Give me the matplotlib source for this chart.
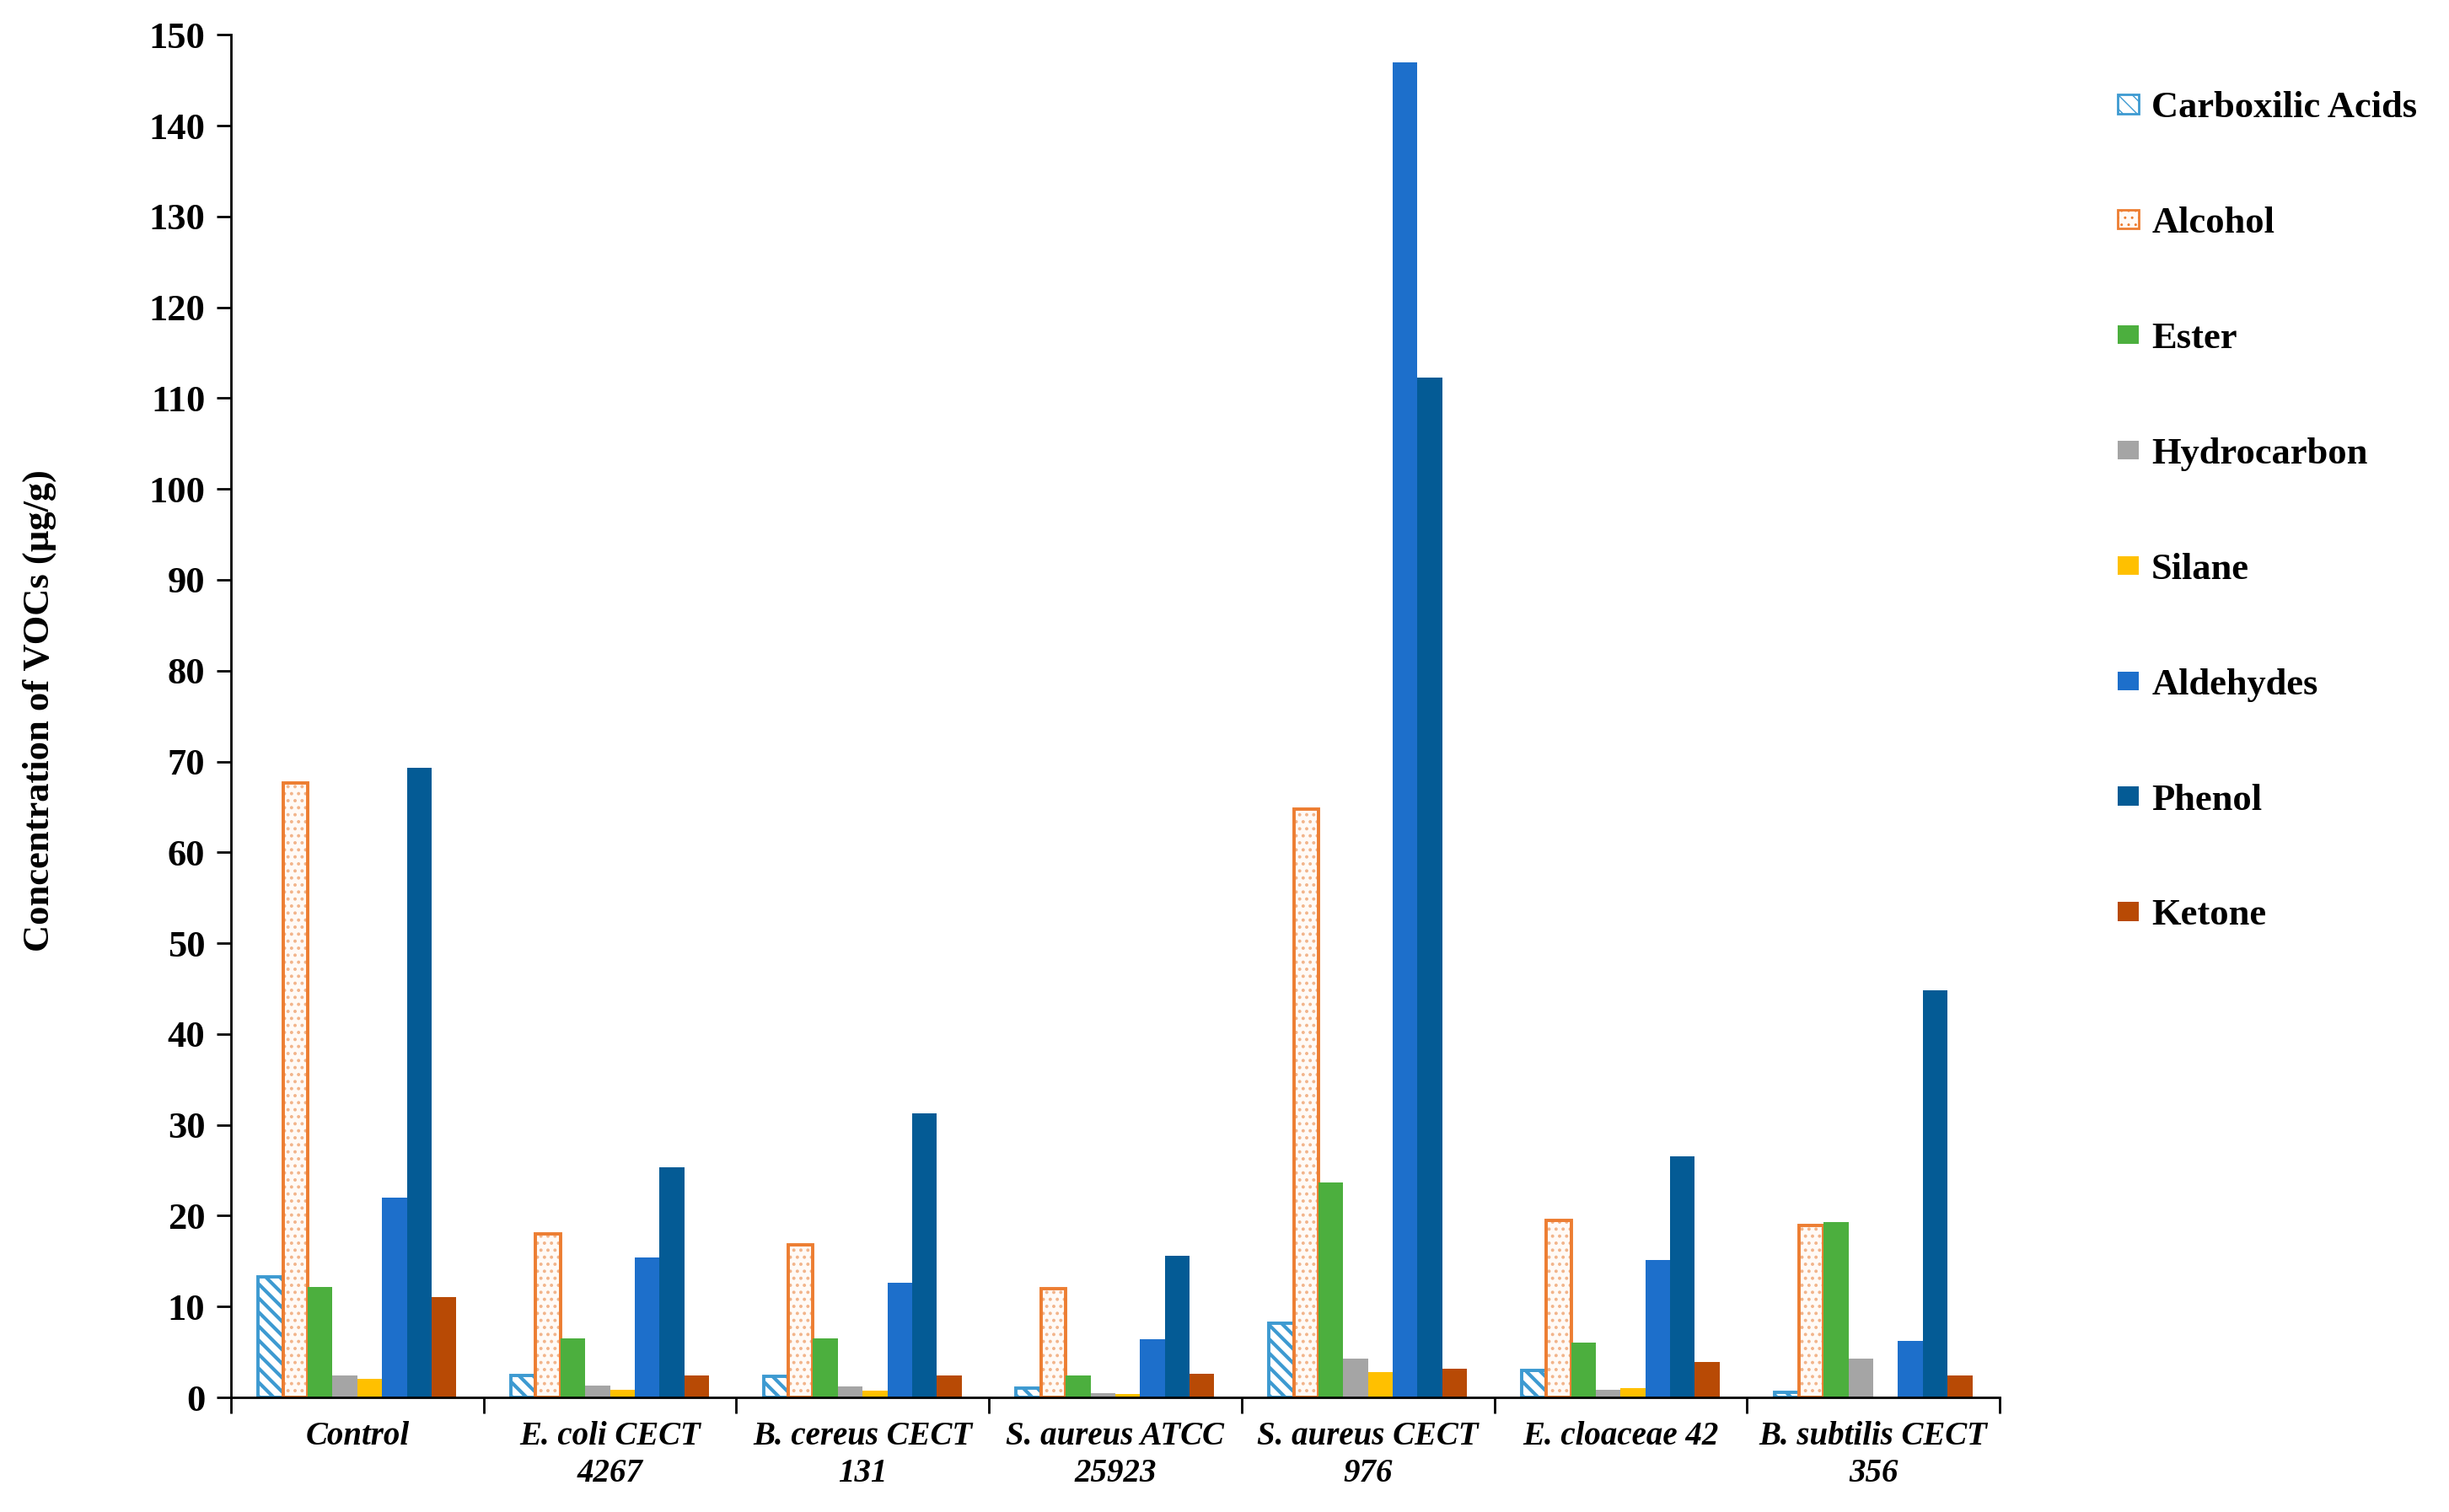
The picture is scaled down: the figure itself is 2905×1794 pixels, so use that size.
import numpy as np
import matplotlib
matplotlib.use("Agg")
from matplotlib import pyplot as plt
from matplotlib.patches import Patch

plt.rcParams['font.family'] = ['Liberation Serif', 'DejaVu Serif']

strains = ["Control", "E. coli CECT\n4267", "B. cereus CECT\n131", "S. aureus ATCC\n25923",
           "S. aureus CECT\n976", "E. cloaceae 42", "B. subtilis CECT\n356"]

carboxilic = [13.3, 2.4, 2.3, 1.0, 8.2, 3.0, 0.6]
alcohol = [67.6, 18.0, 16.8, 12.0, 64.8, 19.5, 18.9]
ester = [12.2, 6.5, 6.5, 2.4, 23.7, 6.0, 19.3]
hydrocarbon = [2.4, 1.3, 1.2, 0.5, 4.3, 0.8, 4.3]
silane = [2.0, 0.8, 0.7, 0.4, 2.8, 1.0, 0.0]
aldehydes = [22.0, 15.4, 12.6, 6.4, 147.0, 15.1, 6.2]
phenol = [69.3, 25.3, 31.3, 15.6, 112.3, 26.5, 44.8]
ketone = [11.0, 2.4, 2.4, 2.6, 3.2, 3.9, 2.4]

# name, values, fill, edge, hatch, hatch colour
series = [
    ("Carboxilic Acids", carboxilic, "white", "#3D9AD1", "\\\\", "#3D9AD1"),
    ("Alcohol", alcohol, "#FFFAF6", "#ED7D31", "..", "#F2B48A"),
    ("Ester", ester, "#4CAF3E", "#4CAF3E", None, None),
    ("Hydrocarbon", hydrocarbon, "#A5A5A5", "#A5A5A5", None, None),
    ("Silane", silane, "#FFC000", "#FFC000", None, None),
    ("Aldehydes", aldehydes, "#1D6FCB", "#1D6FCB", None, None),
    ("Phenol", phenol, "#045B95", "#045B95", None, None),
    ("Ketone", ketone, "#B84A05", "#B84A05", None, None),
]

fig = plt.figure(figsize=(29.05, 17.94), dpi=100)
ax = fig.add_axes([0.0943, 0.0758, 0.7222, 0.9012])

x = np.arange(len(strains))
w = 0.098
handles = []
for i, (name, vals, fc, ec, hatch, hc) in enumerate(series):
    pos = x + (i - 3.5) * w
    if hatch:
        hlw = 3.0 if hatch.startswith("\\") else 1.6
        with plt.rc_context({'hatch.linewidth': hlw}):
            ax.bar(pos, vals, width=w, color=fc, edgecolor=hc, hatch=hatch, linewidth=0)
            handles.append(Patch(facecolor=fc, edgecolor=ec, hatch=hatch, linewidth=2, label=name))
        ax.bar(pos, vals, width=w, fill=False, edgecolor=ec, linewidth=2.8)
    else:
        ax.bar(pos, vals, width=w, color=fc, linewidth=0)
        handles.append(Patch(facecolor=fc, linewidth=0, label=name))

ax.set_xlim(-0.5, len(strains) - 0.5)
ax.set_ylim(0, 150)
ax.set_yticks(np.arange(0, 151, 10))
ax.tick_params(axis='y', labelsize=32, length=12, width=2, pad=10)
for t in ax.get_yticklabels():
    t.set_fontweight('bold')

ax.set_xticks(x)
ax.set_xticklabels(strains, fontsize=28, fontweight='bold', style='italic', linespacing=1.25)
ax.tick_params(axis='x', which='major', length=0, pad=20)
ax.set_xticks(np.arange(-0.5, len(strains)), minor=True)
ax.tick_params(axis='x', which='minor', length=14, width=2)

for s in ['top', 'right']:
    ax.spines[s].set_visible(False)
for s in ['left', 'bottom']:
    ax.spines[s].set_linewidth(2)

fig.text(0.016, 0.53, "Concentration of VOCs (µg/g)", rotation=90, ha='center', va='center',
         fontsize=32, fontweight='bold')

fig.legend(handles=handles, loc='upper left', bbox_to_anchor=(0.851, 0.962), frameon=False,
           prop={'size': 32, 'weight': 'bold'}, handlelength=0.55, handleheight=0.4,
           handletextpad=0.35, labelspacing=2.18)

fig.savefig("out.png", dpi=100)
